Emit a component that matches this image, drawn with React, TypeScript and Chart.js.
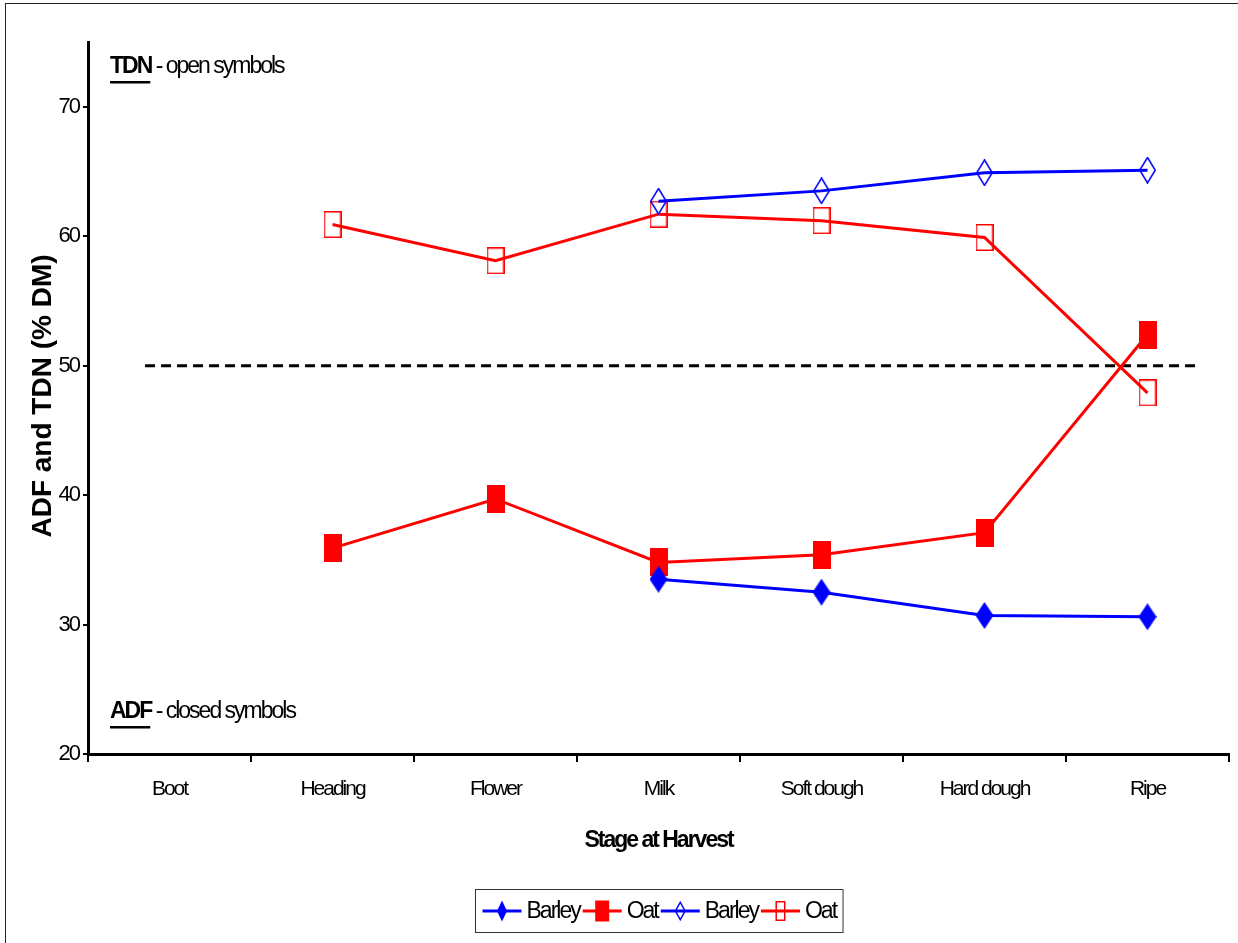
import React, { useEffect, useRef } from 'react';
import { Chart, registerables } from 'chart.js';

Chart.register(...registerables);

// ---------- data ----------
const categories = ['Boot', 'Heading', 'Flower', 'Milk', 'Soft dough', 'Hard dough', 'Ripe'];
const barleyADF = [null, null, null, 33.5, 32.5, 30.7, 30.6];
const oatADF = [null, 35.9, 39.7, 34.8, 35.4, 37.1, 52.4];
const barleyTDN = [null, null, null, 62.7, 63.5, 64.9, 65.1];
const oatTDN = [null, 60.9, 58.1, 61.7, 61.2, 59.9, 47.9];
const seriesLabels = ['Barley', 'Oat', 'Barley', 'Oat'];
const yTicks = [20, 30, 40, 50, 60, 70];
const Y_MIN = 20;
const Y_MAX = 75;
const referenceLine = 50;
const yTitle = 'ADF and TDN (% DM)';
const xTitle = 'Stage at Harvest';
const noteTop = ['TDN', ' - open symbols'];
const noteBottom = ['ADF', ' - closed symbols'];

// ---------- styles ----------
const FONT = "'Liberation Sans', Arial, sans-serif";
const TIGHT = '-2px';
const BLUE = '#0000FF';
const RED = '#FF0000';

type Shape = 'diamond' | 'rect';
interface MarkerSpec { shape: Shape; filled: boolean; color: string; w: number; h: number; lw: number; lh: number; }

const markerSpecs: MarkerSpec[] = [
  { shape: 'diamond', filled: true, color: BLUE, w: 18, h: 27, lw: 10, lh: 21 },
  { shape: 'rect', filled: true, color: RED, w: 18, h: 28, lw: 14, lh: 21 },
  { shape: 'diamond', filled: false, color: BLUE, w: 17, h: 27, lw: 11, lh: 19 },
  { shape: 'rect', filled: false, color: RED, w: 18, h: 27, lw: 10, lh: 20 },
];

function drawShape(ctx: CanvasRenderingContext2D, spec: MarkerSpec, cx: number, cy: number, w: number, h: number) {
  ctx.save();
  const inset = spec.filled ? 0 : 0.75;
  const hw = w / 2 - inset;
  const hh = h / 2 - inset;
  ctx.beginPath();
  if (spec.shape === 'diamond') {
    ctx.moveTo(cx, cy - hh);
    ctx.lineTo(cx + hw, cy);
    ctx.lineTo(cx, cy + hh);
    ctx.lineTo(cx - hw, cy);
    ctx.closePath();
  } else {
    ctx.rect(cx - hw, cy - hh, hw * 2, hh * 2);
  }
  if (spec.filled) {
    ctx.fillStyle = spec.color;
    ctx.fill();
  } else {
    ctx.strokeStyle = spec.color;
    ctx.lineWidth = 1.5;
    ctx.stroke();
  }
  ctx.restore();
}

function makeMarker(spec: MarkerSpec): HTMLCanvasElement {
  const c = document.createElement('canvas');
  c.width = spec.w;
  c.height = spec.h;
  const ctx = c.getContext('2d')!;
  drawShape(ctx, spec, spec.w / 2, spec.h / 2, spec.w, spec.h);
  return c;
}

const framePlugin = {
  id: 'frame',
  beforeDraw(chart: any) {
    const { ctx } = chart;
    ctx.save();
    ctx.fillStyle = '#fff';
    ctx.fillRect(0, 0, chart.width, chart.height);
    ctx.strokeStyle = '#222';
    ctx.lineWidth = 1;
    ctx.strokeRect(5.5, 3.5, chart.width + 20, chart.height + 20);
    ctx.restore();
    // condensed look of the original's labels
    (ctx as any).letterSpacing = TIGHT;
  },
};

const refLinePlugin = {
  id: 'refLine',
  beforeDatasetsDraw(chart: any) {
    const { ctx, scales } = chart;
    const x = scales.x;
    const y = scales.y.getPixelForValue(referenceLine);
    const step = x.getPixelForValue(1) - x.getPixelForValue(0);
    const x0 = x.getPixelForValue(0) - 0.15 * step;
    const x1 = x.getPixelForValue(categories.length - 1) + 0.32 * step;
    ctx.save();
    ctx.strokeStyle = '#000';
    ctx.lineWidth = 3;
    ctx.setLineDash([10, 6]);
    ctx.beginPath();
    ctx.moveTo(x0, y);
    ctx.lineTo(x1, y);
    ctx.stroke();
    ctx.restore();
  },
};

function drawNote(ctx: CanvasRenderingContext2D, parts: string[], x: number, y: number) {
  ctx.save();
  (ctx as any).letterSpacing = TIGHT;
  ctx.textBaseline = 'middle';
  ctx.textAlign = 'left';
  ctx.fillStyle = '#000';
  ctx.font = `bold 23px ${FONT}`;
  ctx.fillText(parts[0], x, y);
  const w0 = ctx.measureText(parts[0]).width;
  ctx.fillRect(x, y + 14, w0 - 1, 2.5);
  ctx.font = `23px ${FONT}`;
  ctx.fillText(parts[1], x + w0, y);
  ctx.restore();
}

const notesPlugin = {
  id: 'notes',
  afterDraw(chart: any) {
    const { ctx, chartArea } = chart;
    drawNote(ctx, noteTop, chartArea.left + 22, chartArea.top + 25);
    drawNote(ctx, noteBottom, chartArea.left + 22, chartArea.bottom - 42);
    // y axis title (normal width, as in the original)
    ctx.save();
    (ctx as any).letterSpacing = '0px';
    ctx.translate(43, (chartArea.top + chartArea.bottom) / 2 - 2);
    ctx.rotate(-Math.PI / 2);
    ctx.font = `bold 28px ${FONT}`;
    ctx.fillStyle = '#000';
    ctx.textAlign = 'center';
    ctx.textBaseline = 'middle';
    ctx.fillText(yTitle, 0, 0);
    ctx.restore();
  },
};

const legendPlugin = {
  id: 'boxLegend',
  afterDraw(chart: any) {
    const { ctx, chartArea } = chart;
    const dsets = chart.data.datasets;
    ctx.save();
    (ctx as any).letterSpacing = TIGHT;
    ctx.font = `23px ${FONT}`;
    const lineLen = 39;
    const gap = 5;
    const between = 3;
    const widths = dsets.map((d: any) => ctx.measureText(d.label).width);
    let total = 0;
    widths.forEach((w: number, i: number) => {
      total += lineLen + gap + w + (i < widths.length - 1 ? between : 0);
    });
    const pad = 7;
    const cx = (chartArea.left + chartArea.right) / 2;
    const boxLeft = Math.round(cx - total / 2 - pad) + 0.5;
    const boxTop = chart.height - 54 + 0.5;
    const boxH = 43;
    ctx.strokeStyle = '#333';
    ctx.lineWidth = 1;
    ctx.strokeRect(boxLeft, boxTop, total + pad * 2, boxH);
    const cy = boxTop + boxH / 2;
    let x = boxLeft + pad;
    dsets.forEach((d: any, i: number) => {
      const spec = markerSpecs[i];
      ctx.strokeStyle = d.borderColor;
      ctx.lineWidth = 3;
      ctx.beginPath();
      ctx.moveTo(x, cy);
      ctx.lineTo(x + lineLen, cy);
      ctx.stroke();
      drawShape(ctx, spec, x + lineLen / 2, cy, spec.lw, spec.lh);
      ctx.fillStyle = '#000';
      ctx.textBaseline = 'middle';
      ctx.textAlign = 'left';
      ctx.fillText(d.label, x + lineLen + gap, cy + 1);
      x += lineLen + gap + widths[i] + between;
    });
    ctx.restore();
  },
};

export default function App() {
  const ref = useRef<HTMLCanvasElement | null>(null);

  useEffect(() => {
    if (!ref.current) return;
    const markers = markerSpecs.map(makeMarker);
    const seriesData = [barleyADF, oatADF, barleyTDN, oatTDN];
    const colors = [BLUE, RED, BLUE, RED];
    const chart = new Chart(ref.current, {
      type: 'line',
      data: {
        labels: categories,
        datasets: seriesData.map((d, i) => ({
          label: seriesLabels[i],
          data: d,
          borderColor: colors[i],
          backgroundColor: colors[i],
          borderWidth: 3,
          pointStyle: markers[i] as any,
          pointRadius: 6,
          pointHoverRadius: 6,
          tension: 0,
          fill: false,
          spanGaps: false,
        })),
      },
      options: {
        animation: false,
        responsive: false,
        devicePixelRatio: 1,
        events: [],
        layout: { padding: { left: 0, top: 42, right: 9, bottom: 59 } },
        plugins: {
          legend: { display: false },
          tooltip: { enabled: false },
          title: { display: false },
        },
        scales: {
          x: {
            type: 'category',
            offset: true,
            afterFit: (s: any) => { s.height = 130; },
            grid: {
              display: true,
              drawOnChartArea: false,
              drawTicks: true,
              tickLength: 8,
              color: '#000',
              lineWidth: 2,
              offset: true,
            },
            border: { display: true, color: '#000', width: 3 },
            ticks: {
              color: '#000',
              font: { family: FONT, size: 21 },
              padding: 15,
              maxRotation: 0,
              autoSkip: false,
            },
            title: {
              display: true,
              text: xTitle,
              color: '#000',
              font: { family: FONT, size: 23, weight: 'bold' },
              padding: { top: 0, bottom: 30 },
            },
          },
          y: {
            type: 'linear',
            min: Y_MIN,
            max: Y_MAX,
            afterFit: (s: any) => { s.width = 88; },
            afterBuildTicks: (s: any) => { s.ticks = yTicks.map((v) => ({ value: v })); },
            grid: {
              display: true,
              drawOnChartArea: false,
              drawTicks: true,
              tickLength: 5,
              color: '#000',
              lineWidth: 2,
            },
            border: { display: true, color: '#000', width: 3 },
            ticks: {
              color: '#000',
              font: { family: FONT, size: 22 },
              padding: 4,
            },
            title: { display: false },
          },
        },
      },
      plugins: [framePlugin, refLinePlugin, notesPlugin, legendPlugin],
    });
    return () => chart.destroy();
  }, []);

  return (
    <div style={{ position: 'absolute', left: 0, top: 0, width: 1238, height: 943 }}>
      <canvas ref={ref} width={1238} height={943} style={{ width: 1238, height: 943, display: 'block' }} />
    </div>
  );
}
